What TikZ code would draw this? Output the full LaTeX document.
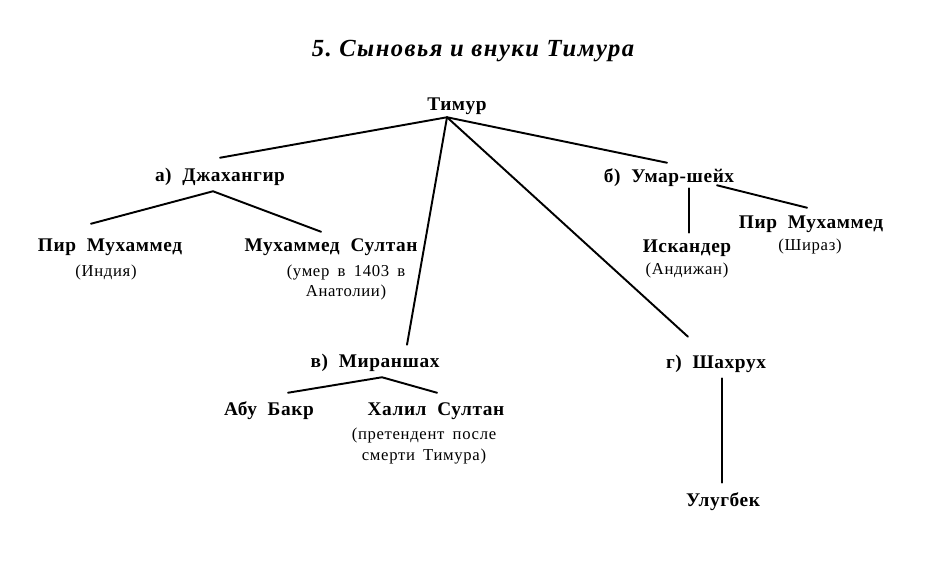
\documentclass[tikz,border=0pt]{standalone}
\usepackage{fontspec}
\setmainfont{Liberation Serif}
\newfontfamily\namefont[LetterSpace=3]{Liberation Serif}
\newfontfamily\notefont[LetterSpace=4, WordSpace=1.7]{Liberation Serif}
\newfontfamily\headfont[LetterSpace=6]{Liberation Serif}
\usepackage{tikz}
\usetikzlibrary{calc}
\definecolor{ink}{HTML}{000000}
\tikzset{
  link/.style={draw=ink, line width=1.1pt, line cap=round},
  person/.style={text=ink, inner sep=0pt, text height=8pt, text depth=1pt,
    font=\namefont\bfseries\fontsize{11}{13}\selectfont},
  note/.style={text=ink, inner sep=0pt, align=center,
    font=\notefont\fontsize{9.5}{11.4}\selectfont},
  heading/.style={text=ink, inner sep=0pt,
    font=\headfont\bfseries\itshape\fontsize{14}{16}\selectfont},
}
\begin{document}
\begin{tikzpicture}[x=0.02cm, y=-0.02cm]
  \useasboundingbox (0,0) rectangle (942,561);
  \node[heading] (title) at (473,51) {5.\ Сыновья и внуки Тимура};
  % sons
  \node[person] (tim)  at (457,104) {Тимур};
  \node[person] (dzh)  at (220,175) {а)\ \ Джахангир};
  \node[person] (umar) at (669,176) {б)\ \ Умар-шейх};
  \node[person] (mir)  at (375,361) {в)\ \ Мираншах};
  \node[person] (shah) at (716,362) {г)\ \ Шахрух};
  % grandsons
  \node[person] (pirA) at (110,245) {Пир\ \ Мухаммед};
  \node[note] (pirAnote) at (106,272) {(Индия)};
  \node[person] (muhS) at (331,245) {Мухаммед\ \ Султан};
  \node[note, text depth=2pt] (muhSnote) at (346,282) {(умер в 1403 в\\Анатолии)};
  \node[person] (isk)  at (687,246) {Искандер};
  \node[note] (isknote) at (687,270) {(Андижан)};
  \node[person] (pirB) at (811,222) {Пир\ \ Мухаммед};
  \node[note] (pirBnote) at (810,246) {(Шираз)};
  \node[person] (abu)  at (269,409) {Абу\ \ Бакр};
  \node[person] (khal) at (436,409) {Халил\ \ Султан};
  \node[note, font=\notefont\fontsize{9.5}{12.5}\selectfont] (khalnote) at (424,446) {(претендент после\\смерти Тимура)};
  \node[person] (ulug) at (723,500) {Улугбек};
  % connectors
  \coordinate (root) at ($(tim.south)+(-10,5)$);
  \draw[link] (root) -- ($(dzh.north)+(0,-9)$);
  \draw[link] (root) -- ($(umar.north)+(-2,-5)$);
  \draw[link] (root) -- ($(mir.north)+(32,-8)$);
  \draw[link] (root) -- ($(shah.north)+(-28,-17)$);
  \draw[link] ($(pirA.north)+(-19,-13)$) -- ($(dzh.south)+(-7,8)$) -- ($(muhS.north)+(-10,-5)$);
  \draw[link] ($(umar.south)+(20,4)$) -- ($(isk.north)+(2,-5)$);
  \draw[link] ($(umar.south)+(48,1)$) -- ($(pirB.north)+(-4,-6)$);
  \draw[link] ($(abu.north)+(19,-8)$) -- ($(mir.south)+(7,8)$) -- ($(khal.north)+(1,-8)$);
  \draw[link] ($(shah.south)+(6,8)$) -- ($(ulug.north)+(-1,-9)$);
\end{tikzpicture}
\end{document}
